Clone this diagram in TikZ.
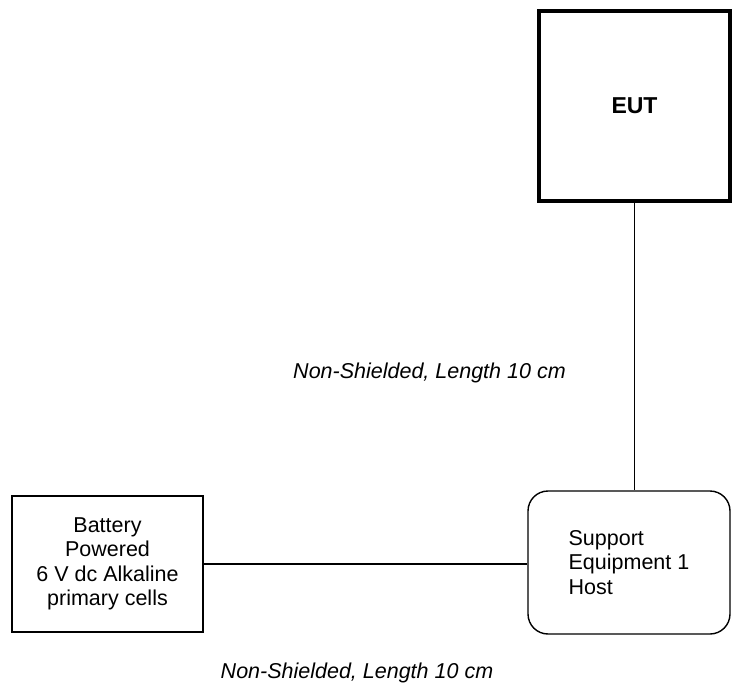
\documentclass[tikz,border=0pt]{standalone}
\usepackage{fontspec}
\setmainfont{Liberation Sans}
\begin{document}
\begin{tikzpicture}[x=1pt,y=1pt,
  thinbox/.style={draw, line width=1.4pt, inner sep=0pt, font=\fontsize{21.5}{24.5}\selectfont},
  eutbox/.style={draw, line width=3.5pt, inner sep=0pt, minimum width=191pt, minimum height=190pt, font=\fontsize{23}{26}\selectfont\bfseries},
  wire/.style={line width=1.4pt},
  lbl/.style={font=\fontsize{21.5}{24.5}\selectfont\itshape, inner sep=0pt}]
\useasboundingbox (0,0) rectangle (732,-688);
\node[eutbox] (eut) at (634.5,-106) {EUT};
\node[thinbox, minimum width=191pt, minimum height=136pt, align=center] (bat) at (107.5,-564) {Battery\\Powered\\6 V dc Alkaline\\primary cells};
\node[thinbox, rounded corners=20pt, minimum width=202pt, minimum height=143pt, align=left] (host) at (629,-562.5) {Support\\Equipment 1\\Host};
\draw[wire] (eut.south) -- (eut.south |- host.north);
\draw[wire] (bat.east) -- (bat.east -| host.west);
\node[lbl] (l1) at (429.5,-373) {Non-Shielded, Length 10 cm};
\node[lbl] (l2) at (357,-673) {Non-Shielded, Length 10 cm};
\end{tikzpicture}
\end{document}
